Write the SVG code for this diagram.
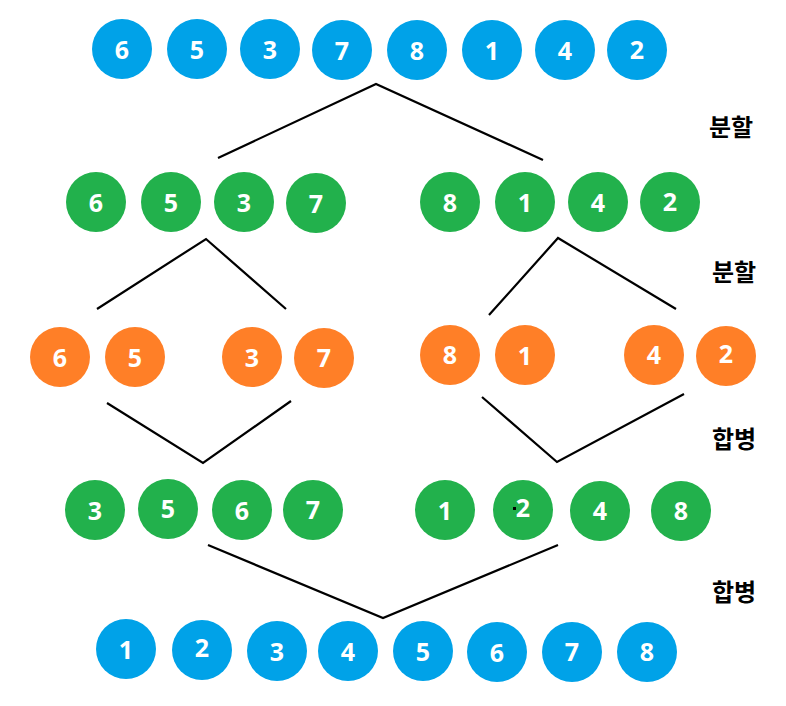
<svg xmlns="http://www.w3.org/2000/svg" width="786" height="706" viewBox="0 0 786 706">
<style>
.b{fill:#00A2E8}.g{fill:#22B14C}.o{fill:#FF7F27}
.n text{fill:#fff;font-family:"Open Sans","Noto Sans",sans-serif;font-weight:700;font-size:25px;text-anchor:middle;dominant-baseline:central}
.lbl{fill:#000;font-family:"Noto Sans CJK KR",sans-serif;font-weight:700;font-size:24px;text-anchor:middle;dominant-baseline:central}
#connectors polyline{fill:none;stroke:#000;stroke-width:2.2}
</style>
<rect width="786" height="706" fill="#fff"/>
<g id="connectors">
<polyline points="218,158 376,84 543,160"/>
<polyline points="97,309 206,239 286,309"/>
<polyline points="489,315 558,238 676,309"/>
<polyline points="107,403 203,463 291,401"/>
<polyline points="482,397 557,462 684,394"/>
<polyline points="208,545 383,618 558,545"/>
</g>
<g class="n">
<g id="r1n1"><circle class="b" cx="122" cy="49" r="30"/><text x="122" y="49">6</text></g>
<g id="r1n2"><circle class="b" cx="197" cy="49" r="30"/><text x="197" y="49">5</text></g>
<g id="r1n3"><circle class="b" cx="270" cy="49" r="30"/><text x="270" y="49">3</text></g>
<g id="r1n4"><circle class="b" cx="342" cy="50" r="30"/><text x="342" y="50">7</text></g>
<g id="r1n5"><circle class="b" cx="417" cy="50" r="30"/><text x="417" y="50">8</text></g>
<g id="r1n6"><circle class="b" cx="492" cy="50" r="30"/><text x="492" y="50">1</text></g>
<g id="r1n7"><circle class="b" cx="565" cy="50" r="30"/><text x="565" y="50">4</text></g>
<g id="r1n8"><circle class="b" cx="637" cy="50" r="30"/><text x="637" y="49">2</text></g>

<g id="r2n1"><circle class="g" cx="96" cy="202" r="30"/><text x="96" y="202">6</text></g>
<g id="r2n2"><circle class="g" cx="171" cy="202" r="30"/><text x="171" y="202">5</text></g>
<g id="r2n3"><circle class="g" cx="244" cy="202" r="30"/><text x="244" y="202">3</text></g>
<g id="r2n4"><circle class="g" cx="316" cy="203" r="30"/><text x="316" y="203">7</text></g>
<g id="r2n5"><circle class="g" cx="450" cy="202" r="30"/><text x="450" y="202">8</text></g>
<g id="r2n6"><circle class="g" cx="525" cy="202" r="30"/><text x="525" y="202">1</text></g>
<g id="r2n7"><circle class="g" cx="598" cy="202" r="30"/><text x="598" y="202">4</text></g>
<g id="r2n8"><circle class="g" cx="670" cy="202" r="30"/><text x="670" y="201">2</text></g>

<g id="r3n1"><circle class="o" cx="60" cy="357" r="30"/><text x="60" y="357">6</text></g>
<g id="r3n2"><circle class="o" cx="135" cy="357" r="30"/><text x="135" y="357">5</text></g>
<g id="r3n3"><circle class="o" cx="252" cy="357" r="30"/><text x="252" y="357">3</text></g>
<g id="r3n4"><circle class="o" cx="324" cy="358" r="30"/><text x="324" y="357">7</text></g>
<g id="r3n5"><circle class="o" cx="450" cy="355" r="30"/><text x="450" y="354">8</text></g>
<g id="r3n6"><circle class="o" cx="525" cy="355" r="30"/><text x="525" y="355">1</text></g>
<g id="r3n7"><circle class="o" cx="654" cy="355" r="30"/><text x="654" y="354">4</text></g>
<g id="r3n8"><circle class="o" cx="726" cy="356" r="30"/><text x="726" y="353">2</text></g>

<g id="r4n1"><circle class="g" cx="95" cy="510" r="30"/><text x="95" y="510">3</text></g>
<g id="r4n2"><circle class="g" cx="168" cy="509" r="30"/><text x="168" y="508">5</text></g>
<g id="r4n3"><circle class="g" cx="242" cy="510" r="30"/><text x="242" y="510">6</text></g>
<g id="r4n4"><circle class="g" cx="313" cy="510" r="30"/><text x="313" y="509">7</text></g>
<g id="r4n5"><circle class="g" cx="445" cy="510" r="30"/><text x="445" y="510">1</text></g>
<g id="r4n6"><circle class="g" cx="523" cy="510" r="30"/><text x="523" y="507">2</text><rect x="513" y="507" width="3" height="3" fill="#000"/></g>
<g id="r4n7"><circle class="g" cx="600" cy="511" r="30"/><text x="600" y="510">4</text></g>
<g id="r4n8"><circle class="g" cx="681" cy="511" r="30"/><text x="681" y="510">8</text></g>

<g id="r5n1"><circle class="b" cx="126" cy="649" r="30"/><text x="126" y="649">1</text></g>
<g id="r5n2"><circle class="b" cx="202" cy="650" r="30"/><text x="202" y="647">2</text></g>
<g id="r5n3"><circle class="b" cx="277" cy="651" r="30"/><text x="277" y="651">3</text></g>
<g id="r5n4"><circle class="b" cx="348" cy="651" r="30"/><text x="348" y="651">4</text></g>
<g id="r5n5"><circle class="b" cx="423" cy="651" r="30"/><text x="423" y="651">5</text></g>
<g id="r5n6"><circle class="b" cx="497" cy="652" r="30"/><text x="497" y="652">6</text></g>
<g id="r5n7"><circle class="b" cx="572" cy="652" r="30"/><text x="572" y="651">7</text></g>
<g id="r5n8"><circle class="b" cx="647" cy="652" r="30"/><text x="647" y="651">8</text></g>
</g>
<g id="labels">
<text class="lbl" x="731" y="125">분할</text>
<text class="lbl" x="734" y="270">분할</text>
<text class="lbl" x="734" y="437">합병</text>
<text class="lbl" x="734" y="590">합병</text>
</g>
</svg>
